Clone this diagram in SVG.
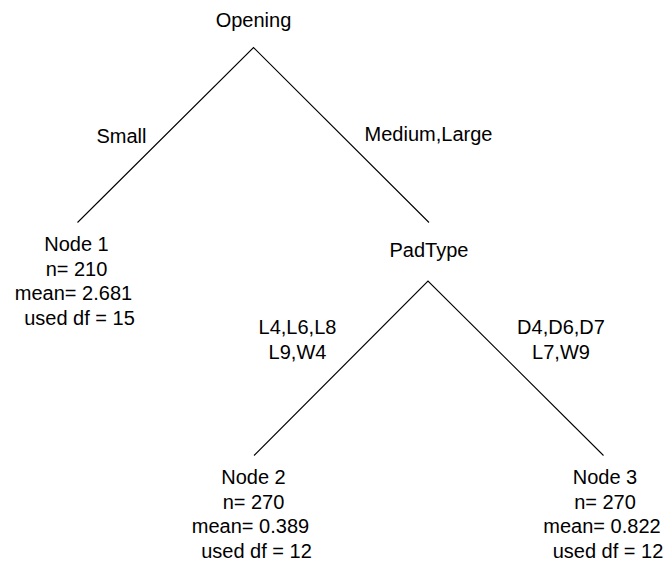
<svg xmlns="http://www.w3.org/2000/svg" width="663" height="563" viewBox="0 0 663 563">
  <style>
    text { font-family: "Liberation Sans", Arial, sans-serif; font-size: 20px; fill: #000; text-anchor: middle; }
    .edge { stroke: #000; stroke-width: 1.1; fill: none; }
  </style>
  <rect width="663" height="563" fill="#fff"/>

  <!-- tree branches -->
  <g id="connectors">
    <polyline class="edge" points="77.5,222.5 253.5,47.5 429,222.5"/>
    <polyline class="edge" points="254,455.5 428,281 603.5,455.5"/>
  </g>

  <!-- split labels -->
  <g id="split-labels">
    <text x="121.5" y="142.5">Small</text>
    <text x="428.5" y="141">Medium,Large</text>
    <text x="297.5" y="334">L4,L6,L8</text>
    <text x="297.5" y="359">L9,W4</text>
    <text x="561" y="334">D4,D6,D7</text>
    <text x="561" y="359">L7,W9</text>
  </g>

  <g id="root">
    <text x="253.5" y="27">Opening</text>
  </g>

  <g id="padtype">
    <text x="429" y="256.5">PadType</text>
  </g>

  <g id="node1">
    <text x="76.5" y="251">Node 1</text>
    <text x="76.5" y="275.5">n= 210</text>
    <text x="73.5" y="300">mean= 2.681</text>
    <text x="79.5" y="324.5">used df = 15</text>
  </g>

  <g id="node2">
    <text x="253.5" y="484">Node 2</text>
    <text x="253.5" y="508.5">n= 270</text>
    <text x="250.5" y="533">mean= 0.389</text>
    <text x="256.5" y="557.5">used df = 12</text>
  </g>

  <g id="node3">
    <text x="605" y="484">Node 3</text>
    <text x="605" y="508.5">n= 270</text>
    <text x="602" y="533">mean= 0.822</text>
    <text x="608" y="557.5">used df = 12</text>
  </g>
</svg>
